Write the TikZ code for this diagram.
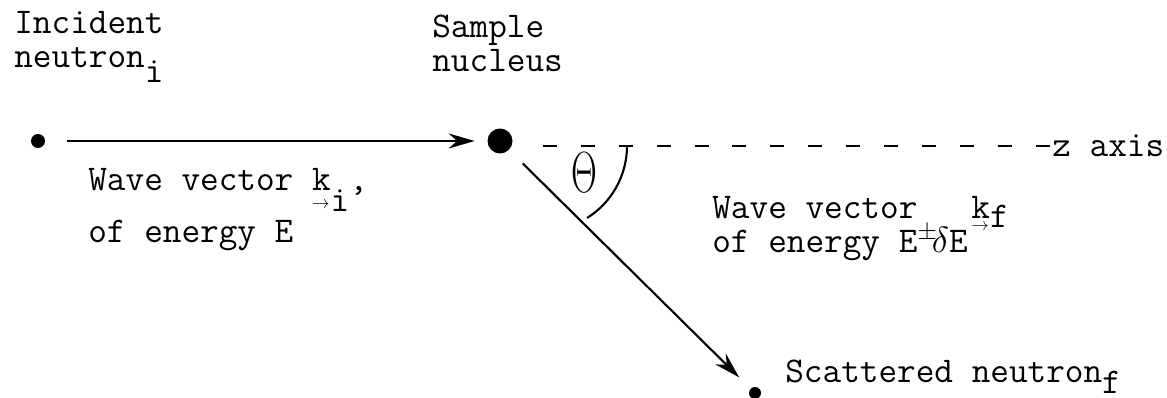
\documentclass[tikz,border=0pt]{standalone}
\usepackage{amsmath}
\usepackage{graphicx}
\usetikzlibrary{arrows.meta,positioning}
\tikzset{
  particle/.style = {fill, circle, inner sep=0pt},
  beam/.style     = {-{Stealth[length=0.52cm,width=0.3cm]}},
  typed/.style    = {font=\fontsize{20.6}{19.6}\selectfont\ttfamily,
                     inner sep=0pt, align=left, anchor=base west},
}
\newcommand{\lowsub}[2]{\smash{\raisebox{-#1}{#2}}}
\newcommand{\uvec}[2][10pt]{\rlap{\smash{\raisebox{-#1}{\fontsize{10}{10}\selectfont$\rightarrow$}}}#2}

\begin{document}
\begin{tikzpicture}[x=0.02cm, y=-0.02cm]
\useasboundingbox (0,0) rectangle (1167,398);
% particles
\node[particle, minimum size=0.28cm] (inc) at (38,141) {};
\node[particle, minimum size=0.5cm] (nuc) at (500,141) {};
\node[particle, minimum size=0.24cm] (scat) at (755,393) {};
% beams
\draw[beam, line width=1.6pt, shorten <=0.44cm, shorten >=0.25cm] (inc) -- (nuc);
\draw[beam, line width=1.2pt, shorten <=0.38cm, shorten >=0.32cm] (nuc) -- (scat);
% z axis
\coordinate (zstart) at (543,146);
\coordinate (zend) at (1050,146);
\draw[line width=1.1pt, dash pattern=on 0.28cm off 0.478cm] (zstart) -- (zend);
\node[typed] (zlab) at (1052,157) {z axis};
% scattering angle
\draw[line width=1.2pt] (627,146) .. controls (627,175) and (612,202.5) .. (587,218);
\node[font=\fontsize{24.88}{28}\selectfont] (theta) at (584,173) {\scalebox{0.82}[1.33]{$\Theta$}};
% labels (anchored at the last line)
\node[typed] (inclab) at (14,68) {Incident\\neutron\lowsub{8.5pt}{i}};
\node[typed] (nuclab) at (432,72) {Sample\\nucleus};
\node[typed] (kilab) at (88,243) {Wave vector \uvec{k}\lowsub{12pt}{i},\\[0.36cm]of energy E};
\node[typed] (kflab) at (712,253) {Wave vector\hspace{1.08cm}\uvec[7pt]{k}\lowsub{5pt}{f}\\of energy E$^{\pm}\!\delta$E};
\node[typed] (scatlab) at (785,383) {Scattered neutron\lowsub{6pt}{f}};
\end{tikzpicture}
\end{document}
